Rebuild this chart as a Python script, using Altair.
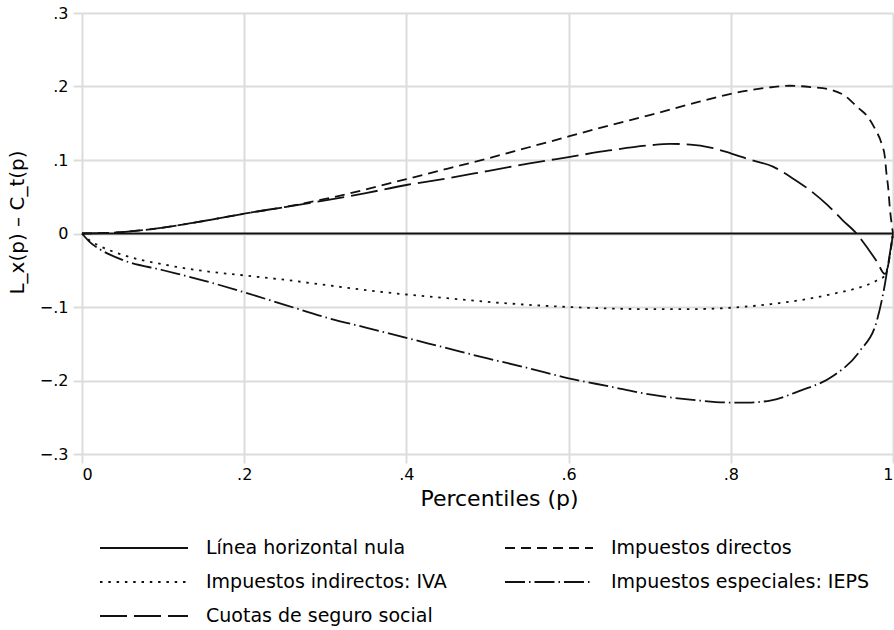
import altair as alt
import pandas as pd

FONT = "DejaVu Sans"

series_names = [
    "Línea horizontal nula",
    "Impuestos directos",
    "Impuestos indirectos: IVA",
    "Impuestos especiales: IEPS",
    "Cuotas de seguro social",
]

# Línea horizontal nula
p_nula = [0, 1]
v_nula = [0, 0]

# Impuestos directos
p_dir = [0, .05, .1, .15, .2, .25, .3, .35, .4, .45, .5, .55, .6, .65, .7, .75, .8, .85, .873, .9,
         .922, .941, .957, .968, .978, .986, .990, .992, .994, .996, 1]
v_dir = [0, .002, .008, .017, .027, .036, .047, .06, .074, .088, .102, .117, .132, .147, .161, .176,
         .190, .199, .201, .199, .196, .187, .171, .160, .142, .122, .104, .081, .063, .036, 0]

# Impuestos indirectos: IVA
p_iva = [0, .01, .02, .05, .1, .15, .2, .25, .3, .35, .4, .45, .5, .55, .6, .65, .7, .75, .8, .85,
         .9, .93, .96, .98, .99, 1]
v_iva = [0, -.01, -.016, -.029, -.042, -.051, -.057, -.063, -.07, -.077, -.083, -.088, -.093, -.097,
         -.1, -.102, -.103, -.103, -.101, -.096, -.088, -.081, -.073, -.064, -.057, 0]

# Impuestos especiales: IEPS
p_ieps = [0, .01, .02, .05, .1, .15, .2, .25, .3, .35, .4, .45, .5, .55, .6, .65, .7, .75, .8, .82,
          .85, .885, .926, .959, .98, .99, .995, 1]
v_ieps = [0, -.012, -.02, -.036, -.05, -.064, -.08, -.097, -.114, -.128, -.142, -.156, -.17, -.183,
          -.197, -.208, -.219, -.226, -.230, -.230, -.227, -.214, -.194, -.16, -.119, -.069, -.035, 0]

# Cuotas de seguro social
p_cuo = [0, .05, .1, .15, .2, .25, .3, .35, .4, .45, .5, .55, .6, .65, .7, .725, .75, .775, .8, .825,
         .852, .875, .901, .92, .938, .955, .97, .98, .99, 1]
v_cuo = [0, .002, .008, .017, .027, .036, .045, .055, .066, .075, .085, .095, .104, .113, .12, .122,
         .121, .117, .109, .1, .091, .076, .056, .038, .018, 0, -.022, -.038, -.055, 0]

x_ticks = [0, 0.2, 0.4, 0.6, 0.8, 1]
y_ticks = [-0.3, -0.2, -0.1, 0, 0.1, 0.2, 0.3]

dashes = [[1, 0], [10, 6], [2.5, 5.8], [20, 4, 1.5, 4], [27, 7]]

rows = []
for name, ps, vs in zip(series_names,
                        [p_nula, p_dir, p_iva, p_ieps, p_cuo],
                        [v_nula, v_dir, v_iva, v_ieps, v_cuo]):
    for p, v in zip(ps, vs):
        rows.append({"serie": name, "p": p, "v": v})
df = pd.DataFrame(rows)

label_expr = ("datum.value == 0 ? '0' : datum.value == 1 ? '1' : "
              "replace(format(datum.value, '.1f'), '0.', '.')")

GRID = "#dcdcdc"

chart = alt.Chart(df).mark_line(
    color="#111111", strokeWidth=1.8, interpolate="monotone"
).encode(
    x=alt.X("p:Q",
            scale=alt.Scale(domain=[0, 1], nice=False),
            axis=alt.Axis(values=x_ticks, labelExpr=label_expr, title="Percentiles (p)",
                          titleX=417, titleY=44, titleAlign="center", titleBaseline="middle",
                          titleFontSize=22, labelPadding=3)),
    y=alt.Y("v:Q",
            scale=alt.Scale(domain=[-0.3, 0.3], nice=False),
            axis=alt.Axis(values=y_ticks, labelExpr=label_expr, title="L_x(p) – C_t(p)",
                          titleX=-65, titleY=209, titleAlign="center", titleBaseline="middle",
                          titleAngle=270, titleFontSize=20, labelPadding=5)),
    strokeDash=alt.StrokeDash(
        "serie:N",
        scale=alt.Scale(domain=series_names, range=dashes),
        legend=alt.Legend(
            title=None, orient="none", legendX=51, legendY=524, columns=2,
            direction="horizontal",
            symbolType="M-4.4,0H4.4", symbolSize=400, symbolStrokeWidth=1.8,
            symbolStrokeColor="#111111", labelOffset=51, labelFontSize=19, labelFont=FONT,
            labelColor="black", rowPadding=13, columnPadding=54, labelLimit=500,
            padding=0,
        ),
    ),
).properties(
    width=811, height=441,
    padding={"left": 82, "top": 13, "right": 1, "bottom": 176},
    autosize=alt.AutoSizeParams(type="none"),
).configure_view(
    stroke=None
).configure_axis(
    grid=True, gridColor=GRID, gridWidth=2, domain=False,
    tickColor=GRID, tickWidth=2, tickSize=9,
    labelFont=FONT, labelFontSize=16, labelColor="black",
    titleFont=FONT, titleColor="black", titleFontWeight="normal",
)

chart.save("out.html", embed_options={"renderer": "svg", "actions": False})
